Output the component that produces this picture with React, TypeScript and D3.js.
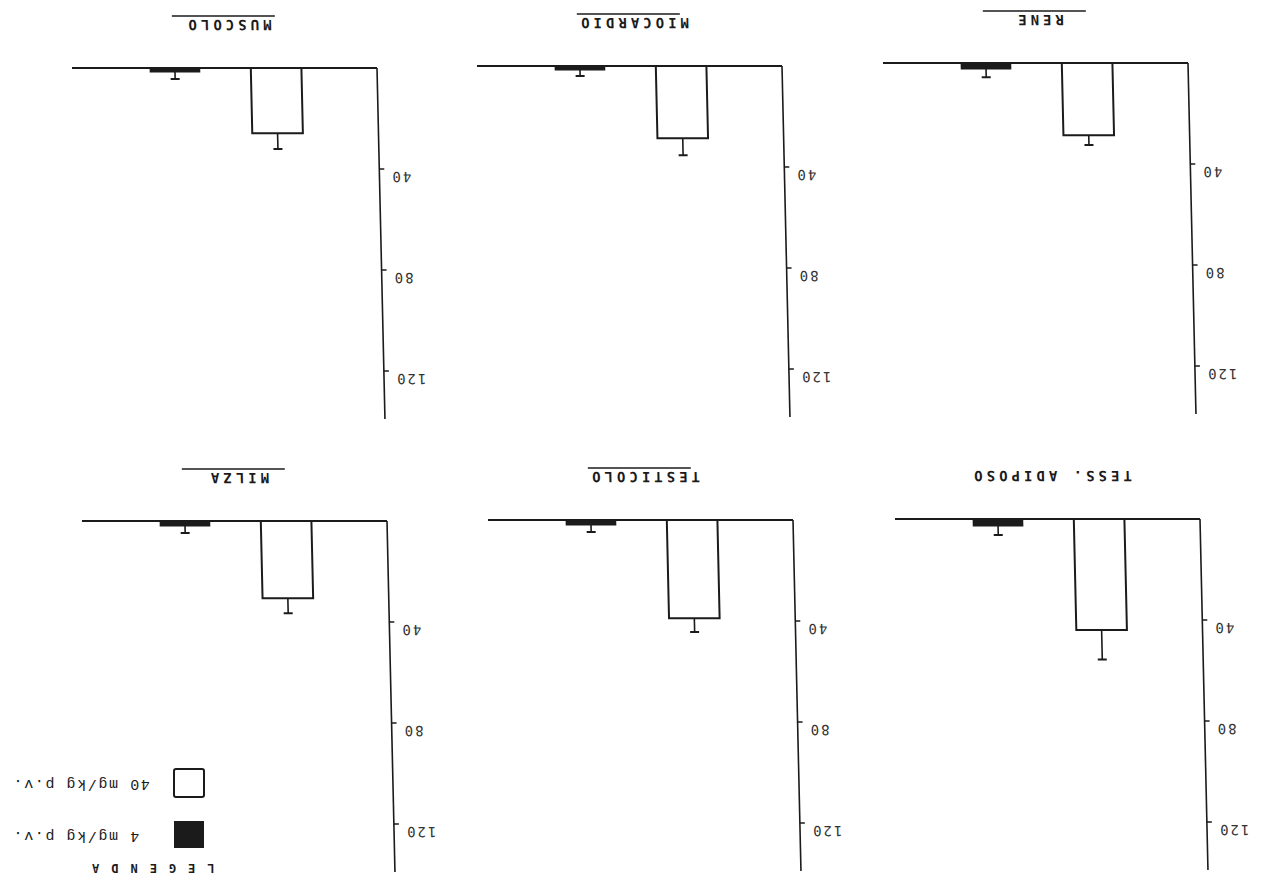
import * as d3 from 'd3';

// organs in reading order of the (upright) figure; the scan itself is shown rotated 180°
const organs = ['TESS. ADIPOSO', 'TESTICOLO', 'MILZA', 'RENE', 'MIOCARDIO', 'MUSCOLO'];
const doses = ['4 mg/kg p.v.', '40 mg/kg p.v.'];
const mean4 = [2.8, 2.0, 2.0, 2.4, 1.6, 1.6];
const err4 = [3.5, 2.8, 2.8, 3.2, 2.4, 2.8];
const mean40 = [44.0, 38.9, 30.6, 28.6, 28.6, 25.8];
const err40 = [11.6, 5.5, 5.9, 3.9, 6.7, 6.3];
const yTicks = [40, 80, 120];
const underlined = [false, true, true, true, true, true];

// panel origin (corner of baseline and axis) in page coordinates
const panelPos = [
  [1200, 519],
  [793, 520],
  [387, 521],
  [1188, 63],
  [782, 66],
  [377, 68],
];

const W = 1263;
const H = 892;
const INK = '#1b1b1b';
const MONO = '"DejaVu Sans Mono", monospace';

const x = d3.scaleBand<string>().domain(doses).range([-278, -25]).padding(0.5);
const y = d3.scaleLinear().domain([0, 120]).range([0, 303]);
const yMax = 139;

// text that reads upside-down, like the rest of the scan
const Flip = ({ x: tx, y: ty, anchor = 'start', size = 14, weight = 'normal', spacing = 0, fill = INK, family = MONO, children }: any) => (
  <text
    transform={`translate(${tx},${ty}) rotate(180)`}
    textAnchor={anchor}
    dominantBaseline="central"
    fontFamily={family}
    fontSize={size}
    fontWeight={weight}
    letterSpacing={spacing}
    fill={fill}
  >
    {children}
  </text>
);

const Panel = ({ i }: { i: number }) => {
  const [px, py] = panelPos[i];
  const bars = [
    { dose: doses[0], mean: mean4[i], err: err4[i] },
    { dose: doses[1], mean: mean40[i], err: err40[i] },
  ];
  return (
    <g transform={`translate(${px},${py}) skewX(1.3)`}>
      {/* title */}
      <Flip x={-148} y={-43} anchor="middle" size={14} weight="bold" spacing={4}>
        {organs[i]}
      </Flip>
      {underlined[i] && <line x1={-204} x2={-101} y1={-52} y2={-52} stroke={INK} strokeWidth={1.3} />}

      {/* bars */}
      {bars.map((b, k) => {
        const bx = x(b.dose)!;
        const cx = bx + x.bandwidth() / 2;
        const top = y(b.mean + b.err);
        return (
          <g key={k}>
            <line x1={cx} x2={cx} y1={y(b.mean)} y2={top} stroke={INK} strokeWidth={1.6} />
            <line x1={cx - 4.5} x2={cx + 4.5} y1={top} y2={top} stroke={INK} strokeWidth={2} />
            {k === 0 ? (
              <rect x={bx} y={-1} width={x.bandwidth()} height={y(b.mean) + 1.5} fill={INK} />
            ) : (
              <rect x={bx} y={0} width={x.bandwidth()} height={y(b.mean)} fill="#fff" stroke={INK} strokeWidth={2} />
            )}
          </g>
        );
      })}

      {/* baseline and value axis */}
      <line x1={-305} x2={0} y1={0} y2={0} stroke={INK} strokeWidth={2.2} />
      <line x1={0} x2={0} y1={0} y2={y(yMax)} stroke={INK} strokeWidth={1.6} />
      {yTicks.map((t) => (
        <g key={t}>
          <line x1={0} x2={5} y1={y(t)} y2={y(t)} stroke={INK} strokeWidth={1.5} />
          <Flip x={11} y={y(t) + 8} anchor="end" size={14} spacing={2} fill="#333">
            {t}
          </Flip>
        </g>
      ))}
    </g>
  );
};

export default function App() {
  return (
    <svg width={W} height={H} style={{ position: 'absolute', left: 0, top: 0, background: '#fff' }}>
      <rect width={W} height={H} fill="#fff" />
      {organs.map((_, i) => (
        <Panel key={i} i={i} />
      ))}

      {/* legend */}
      <rect x={174} y={769} width={30} height={28} rx={2} fill="#fff" stroke={INK} strokeWidth={2} />
      <rect x={174} y={821} width={30} height={27} fill={INK} />
      <Flip x={12} y={783} anchor="end" size={15} spacing={1.6} family='"Liberation Mono", monospace'>
        {doses[1]}
      </Flip>
      <Flip x={12} y={835} anchor="end" size={15} spacing={1.6} family='"Liberation Mono", monospace'>
        {doses[0]}
      </Flip>
      <Flip x={80} y={868} anchor="end" size={12} weight="bold" spacing={12}>
        LEGENDA
      </Flip>
    </svg>
  );
}
